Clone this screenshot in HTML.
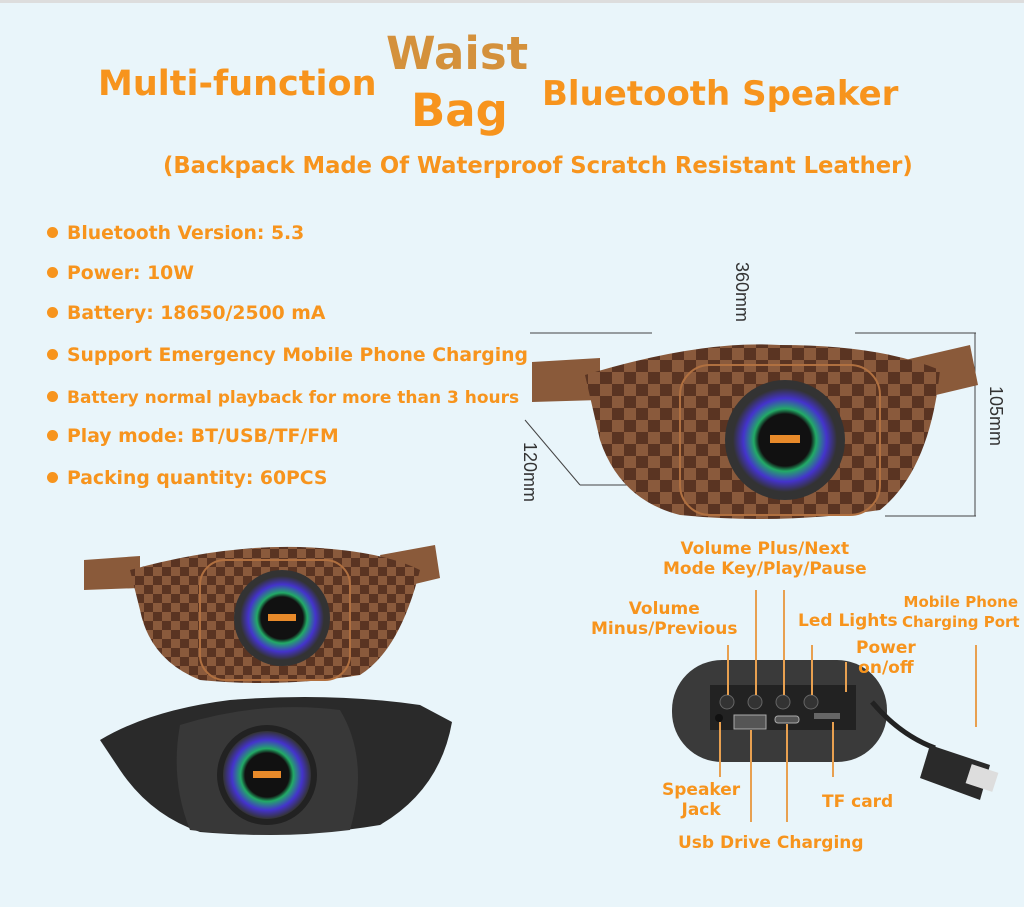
<!DOCTYPE html>
<html><head><meta charset="utf-8"><style>
body{margin:0;width:1024px;height:907px;background:#e9f5fa;position:relative;overflow:hidden;font-family:"DejaVu Sans","Liberation Sans",sans-serif;font-weight:bold;color:#f7941d}
.t{position:absolute;white-space:nowrap;line-height:1}
.b{position:absolute;white-space:nowrap;font-size:18.8px;line-height:1}
.b:before{content:"";display:inline-block;width:11px;height:11px;border-radius:50%;background:#f7941d;margin-right:9px;vertical-align:1px}
.l{position:absolute;font-size:17px;text-align:center;line-height:20px;white-space:nowrap}
.v{position:absolute;width:2px;background:#e8a050}
.d{position:absolute;color:#333;font-weight:normal;font-family:"Liberation Sans",sans-serif;font-size:18px}
</style></head><body>
<div style="position:absolute;left:0;top:0;width:1024px;height:3px;background:#ddd"></div>
<div class="t" style="left:98px;top:67px;font-size:35px">Multi-function</div>
<div class="t" style="left:386px;top:31px;font-size:45px;color:#d4913c">Waist</div>
<div class="t" style="left:411px;top:88px;font-size:45px">Bag</div>
<div class="t" style="left:542px;top:77px;font-size:34px">Bluetooth Speaker</div>
<div class="t" style="left:163px;top:155px;font-size:22.7px">(Backpack Made Of Waterproof Scratch Resistant Leather)</div>
<div class="b" style="left:47px;top:225px">Bluetooth Version: 5.3</div>
<div class="b" style="left:47px;top:265px">Power: 10W</div>
<div class="b" style="left:47px;top:305px">Battery: 18650/2500 mA</div>
<div class="b" style="left:47px;top:347px">Support Emergency Mobile Phone Charging</div>
<div class="b" style="left:47px;top:390px;font-size:17px">Battery normal playback for more than 3 hours</div>
<div class="b" style="left:47px;top:428px">Play mode: BT/USB/TF/FM</div>
<div class="b" style="left:47px;top:470px">Packing quantity: 60PCS</div>

<svg width="1024" height="907" style="position:absolute;left:0;top:0">
<defs>
<pattern id="ck" width="24" height="24" patternUnits="userSpaceOnUse"><rect width="24" height="24" fill="#5a3422"/><rect width="12" height="12" fill="#8a5a3c"/><rect x="12" y="12" width="12" height="12" fill="#8a5a3c"/></pattern>
<pattern id="ck2" width="18" height="18" patternUnits="userSpaceOnUse"><rect width="18" height="18" fill="#5a3422"/><rect width="9" height="9" fill="#8a5a3c"/><rect x="9" y="9" width="9" height="9" fill="#8a5a3c"/></pattern>
<radialGradient id="rg"><stop offset="0.5" stop-color="#111"/><stop offset="0.6" stop-color="#2a6"/><stop offset="0.8" stop-color="#43c"/><stop offset="1" stop-color="#333"/></radialGradient>
</defs>
<g stroke="#444" stroke-width="1" fill="none">
<line x1="530" y1="333" x2="652" y2="333"/><line x1="855" y1="333" x2="976" y2="333"/>
<line x1="885" y1="516" x2="976" y2="516"/><line x1="975" y1="333" x2="975" y2="516"/>
<line x1="525" y1="420" x2="580" y2="485"/><line x1="580" y1="485" x2="640" y2="485"/>
</g>
<path d="M532 362 L600 358 L600 400 L532 402 Z" fill="#8a5a3a"/>
<path d="M905 360 L970 345 L978 385 L915 400 Z" fill="#8a5a3a"/>
<path d="M585 375 Q700 340 780 345 Q880 345 940 370 Q930 470 880 510 Q780 525 680 515 Q620 500 600 440 Z" fill="url(#ck)"/>
<rect x="680" y="365" width="200" height="150" rx="30" fill="url(#ck)" stroke="#b07040" stroke-width="2"/>
<circle cx="785" cy="440" r="60" fill="#333"/><circle cx="785" cy="440" r="52" fill="url(#rg)"/>
<rect x="770" y="435" width="30" height="8" fill="#e88a2a"/>
<path d="M84 560 L140 556 L140 588 L84 590 Z" fill="#8a5a3a"/>
<path d="M380 555 L435 545 L440 578 L390 590 Z" fill="#8a5a3a"/>
<path d="M130 570 Q220 545 300 547 Q380 550 420 570 Q400 650 360 675 Q280 688 200 680 Q150 660 140 610 Z" fill="url(#ck2)"/>
<rect x="200" y="560" width="150" height="120" rx="25" fill="url(#ck2)" stroke="#b07040" stroke-width="2"/>
<circle cx="282" cy="618" r="48" fill="#333"/><circle cx="282" cy="618" r="42" fill="url(#rg)"/>
<rect x="268" y="614" width="28" height="7" fill="#e88a2a"/>
<path d="M100 740 Q150 710 230 700 Q330 692 420 705 L452 722 Q440 790 380 825 Q290 840 200 832 Q150 815 120 770 Z" fill="#2a2a2a"/>
<path d="M180 725 Q260 700 340 710 Q370 760 350 830 Q270 840 190 830 Q170 780 180 725Z" fill="#383838"/>
<circle cx="267" cy="775" r="50" fill="#222"/><circle cx="267" cy="775" r="44" fill="url(#rg)"/>
<rect x="253" y="771" width="28" height="7" fill="#e88a2a"/>
<rect x="672" y="660" width="215" height="102" rx="50" fill="#3a3a3a"/>
<rect x="710" y="685" width="146" height="45" fill="#222"/>
<g fill="#333" stroke="#666"><circle cx="727" cy="702" r="7"/><circle cx="755" cy="702" r="7"/><circle cx="783" cy="702" r="7"/><circle cx="811" cy="702" r="7"/></g>
<rect x="734" y="715" width="32" height="14" fill="#555" stroke="#aaa"/>
<rect x="775" y="716" width="24" height="7" rx="3" fill="#555" stroke="#aaa"/>
<rect x="814" y="713" width="26" height="6" fill="#666"/>
<circle cx="719" cy="718" r="4" fill="#111"/>
<path d="M872 702 Q900 735 935 748" stroke="#222" stroke-width="5" fill="none"/>
<path d="M930 745 L990 765 L980 800 L920 778 Z" fill="#2a2a2a"/>
<rect x="968" y="768" width="28" height="20" fill="#ddd" transform="rotate(18 982 778)"/>
</svg>
<div class="d" style="top:262px;transform:rotate(90deg);transform-origin:0 0;left:752px">360mm</div>
<div class="d" style="left:1006px;top:386px;transform:rotate(90deg);transform-origin:0 0">105mm</div>
<div class="d" style="left:540px;top:442px;transform:rotate(90deg);transform-origin:0 0">120mm</div>

<div class="l" style="left:663px;top:539px">Volume Plus/Next<br>Mode Key/Play/Pause</div>
<div class="l" style="left:591px;top:599px">Volume<br>Minus/Previous</div>
<div class="l" style="left:798px;top:611px">Led Lights</div>
<div class="l" style="left:856px;top:638px">Power<br>on/off</div>
<div class="l" style="left:902px;top:592px;font-size:15px">Mobile Phone<br>Charging Port</div>
<div class="l" style="left:662px;top:780px">Speaker<br>Jack</div>
<div class="l" style="left:822px;top:792px">TF card</div>
<div class="l" style="left:678px;top:833px">Usb Drive Charging</div>
<div class="v" style="left:727px;top:645px;height:50px"></div>
<div class="v" style="left:755px;top:590px;height:105px"></div>
<div class="v" style="left:783px;top:590px;height:105px"></div>
<div class="v" style="left:811px;top:645px;height:50px"></div>
<div class="v" style="left:845px;top:662px;height:30px"></div>
<div class="v" style="left:975px;top:645px;height:82px"></div>
<div class="v" style="left:719px;top:722px;height:55px"></div>
<div class="v" style="left:750px;top:730px;height:92px"></div>
<div class="v" style="left:786px;top:724px;height:98px"></div>
<div class="v" style="left:832px;top:722px;height:55px"></div>
</body></html>
